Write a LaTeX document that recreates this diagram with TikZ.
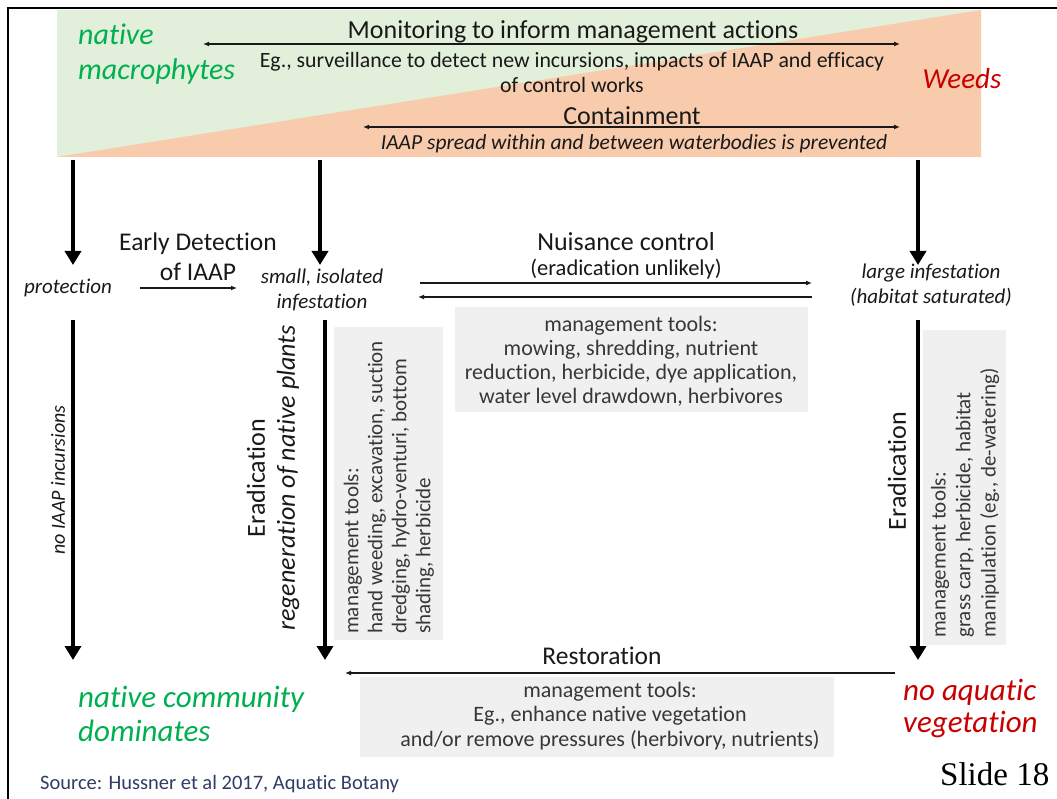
\documentclass[tikz,border=0pt]{standalone}
\usepackage{fontspec}
\setmainfont{Carlito}[Ligatures=NoCommon]
\newfontfamily\timesf{Liberation Serif}
\usetikzlibrary{arrows.meta}
\definecolor{gbg}{RGB}{226,239,218}
\definecolor{pbg}{RGB}{248,203,173}
\definecolor{boxg}{RGB}{240,240,240}
\definecolor{natgreen}{RGB}{0,176,80}
\definecolor{weedred}{RGB}{200,0,0}
\definecolor{srcblue}{RGB}{50,60,100}
\definecolor{txt}{RGB}{25,25,25}
\definecolor{boxtxt}{RGB}{55,55,55}
\newcommand{\fsz}[2]{\fontsize{#1}{#2}\selectfont}
\begin{document}
\begin{tikzpicture}[x=1pt,y=-1pt,
  lbl/.style={inner sep=0pt,text=txt,align=center},
  boxlbl/.style={inner sep=0pt,text=boxtxt,align=center},
  bigarrow/.style={line width=4pt,-{Triangle[width=16pt,length=14pt]}},
  thinarrow/.style={line width=1.3pt,draw=txt,-{Latex[length=6pt,width=5pt]}},
  dblarrow/.style={line width=1.8pt,draw=txt,{Latex[length=6pt,width=5pt]}-{Latex[length=6pt,width=5pt]}},
  grbox/.style={fill=boxg,draw=none}]
\useasboundingbox (0,0) rectangle (1057,799);
\fill[white] (0,0) rectangle (1057,799);
% frame
\draw[line width=2pt] (8,799) -- (8,8) -- (1057,8);
% background band
\fill[gbg] (57,10) rectangle (981,157);
\fill[pbg] (57,157) -- (981,10) -- (981,157) -- cycle;
% top texts
\node[lbl,text=natgreen,align=left,anchor=west,font={\fsz{30}{35}\itshape}] (natmac) at (78,54) {native\\macrophytes};
\node[lbl,font={\fsz{26}{30}}] (monit) at (573,33) {\underline{Monitoring to inform management actions}};
\node[lbl,font={\fsz{21.8}{25}}] (eg) at (572,73) {Eg., surveillance to detect new incursions, impacts of IAAP and efficacy\\of control works};
\node[lbl,text=weedred,font={\fsz{29}{34}\itshape}] (weeds) at (962,79) {Weeds};
\node[lbl,font={\fsz{26}{30}}] (contain) at (632,116) {Containment};
\node[lbl,font={\fsz{21.5}{24}\itshape}] (spread) at (634,144) {IAAP spread within and between waterbodies is prevented};
\coordinate (m1) at (203,44); \coordinate (m2) at (900,44);
\coordinate (c1) at (363,127); \coordinate (c2) at (900,127);
\draw[dblarrow] (m1) -- (m2);
\draw[dblarrow] (c1) -- (c2);
% top vertical arrows
\coordinate (t1) at (73,160); \coordinate (t1e) at (73,265);
\coordinate (t2) at (320,160); \coordinate (t2e) at (320,265);
\coordinate (t3) at (918,160); \coordinate (t3e) at (918,265);
\draw[bigarrow] (t1) -- (t1e);
\draw[bigarrow] (t2) -- (t2e);
\draw[bigarrow] (t3) -- (t3e);
% middle row
\node[lbl,font={\fsz{25.5}{30}}] (early) at (198,257) {Early Detection\\of IAAP};
\node[lbl,font={\fsz{21}{25}\itshape}] (prot) at (68,288) {protection};
\node[lbl,font={\fsz{21}{25}\itshape}] (small) at (322,290) {small, isolated\\infestation};
\node[lbl,font={\fsz{26}{28}}] (nuis) at (626,242) {Nuisance control};
\node[lbl,font={\fsz{22.5}{25}}] (unlik) at (626,269) {(eradication unlikely)};
\node[lbl,font={\fsz{21}{25}\itshape}] (large) at (931,285) {large infestation\\(habitat saturated)};
\coordinate (e1) at (140,288); \coordinate (e2) at (237,288);
\draw[thinarrow] (e1) -- (e2);
\coordinate (n1) at (420,283); \coordinate (n2) at (812,283);
\coordinate (n3) at (812,297); \coordinate (n4) at (418,297);
\draw[thinarrow] (n1) -- (n2);
\draw[thinarrow] (n3) -- (n4);
% nuisance tools box
\fill[grbox] (455,307) rectangle (808,412);
\node[boxlbl,font={\fsz{22}{24}}] (ntools) at (631,361) {management tools:\\mowing, shredding, nutrient\\reduction, herbicide, dye application,\\water level drawdown, herbivores};
% lower vertical arrows
\coordinate (l1) at (73,320); \coordinate (l1e) at (73,660);
\coordinate (l2) at (325,320); \coordinate (l2e) at (325,660);
\coordinate (l3) at (918,320); \coordinate (l3e) at (918,660);
\draw[bigarrow] (l1) -- (l1e);
\draw[bigarrow] (l2) -- (l2e);
\draw[bigarrow] (l3) -- (l3e);
\node[lbl,rotate=90,font={\fsz{20}{24}\itshape}] (noiaap) at (58,480) {no IAAP incursions};
\node[lbl,rotate=90,font={\fsz{26}{30}}] (erad1) at (273,478) {Eradication\\\itshape regeneration of native plants};
\fill[grbox] (334,327) rectangle (443,640);
\node[boxlbl,rotate=90,anchor=west,align=left,font={\fsz{21}{24}}] (etools1) at (389,634) {management tools:\\hand weeding, excavation, suction\\dredging, hydro-venturi, bottom\\shading, herbicide};
\node[lbl,rotate=90,font={\fsz{26}{30}}] (erad2) at (897,471) {Eradication};
\fill[grbox] (923,330) rectangle (1006,645);
\node[boxlbl,rotate=90,anchor=west,align=left,font={\fsz{21}{25}}] (etools2) at (965,638) {management tools:\\grass carp, herbicide, habitat\\manipulation (eg., de-watering)};
% restoration
\node[lbl,font={\fsz{25.5}{30}}] (resto) at (602,656) {Restoration};
\coordinate (r1) at (895,673); \coordinate (r2) at (345,673);
\draw[thinarrow] (r1) -- (r2);
\fill[grbox] (360,677) rectangle (834,757);
\node[boxlbl,font={\fsz{22}{24.5}}] (rtools) at (610,716) {management tools:\\Eg., enhance native vegetation\\and/or remove pressures (herbivory, nutrients)};
% bottom labels
\node[lbl,text=natgreen,align=left,anchor=west,font={\fsz{31}{34}\itshape}] (natcom) at (78,714) {native community\\dominates};
\node[lbl,text=weedred,align=left,anchor=west,font={\fsz{31}{32}\itshape}] (noaq) at (903,708) {no aquatic\\vegetation};
\node[lbl,text=srcblue,anchor=west,font={\fsz{20.5}{22}}] (src) at (40,784) {Source: Hussner et al 2017, Aquatic Botany};
\node[lbl,text=black,anchor=west,font={\fsz{33}{34}\timesf}] (slide) at (940,774) {Slide 18};
\end{tikzpicture}
\end{document}
